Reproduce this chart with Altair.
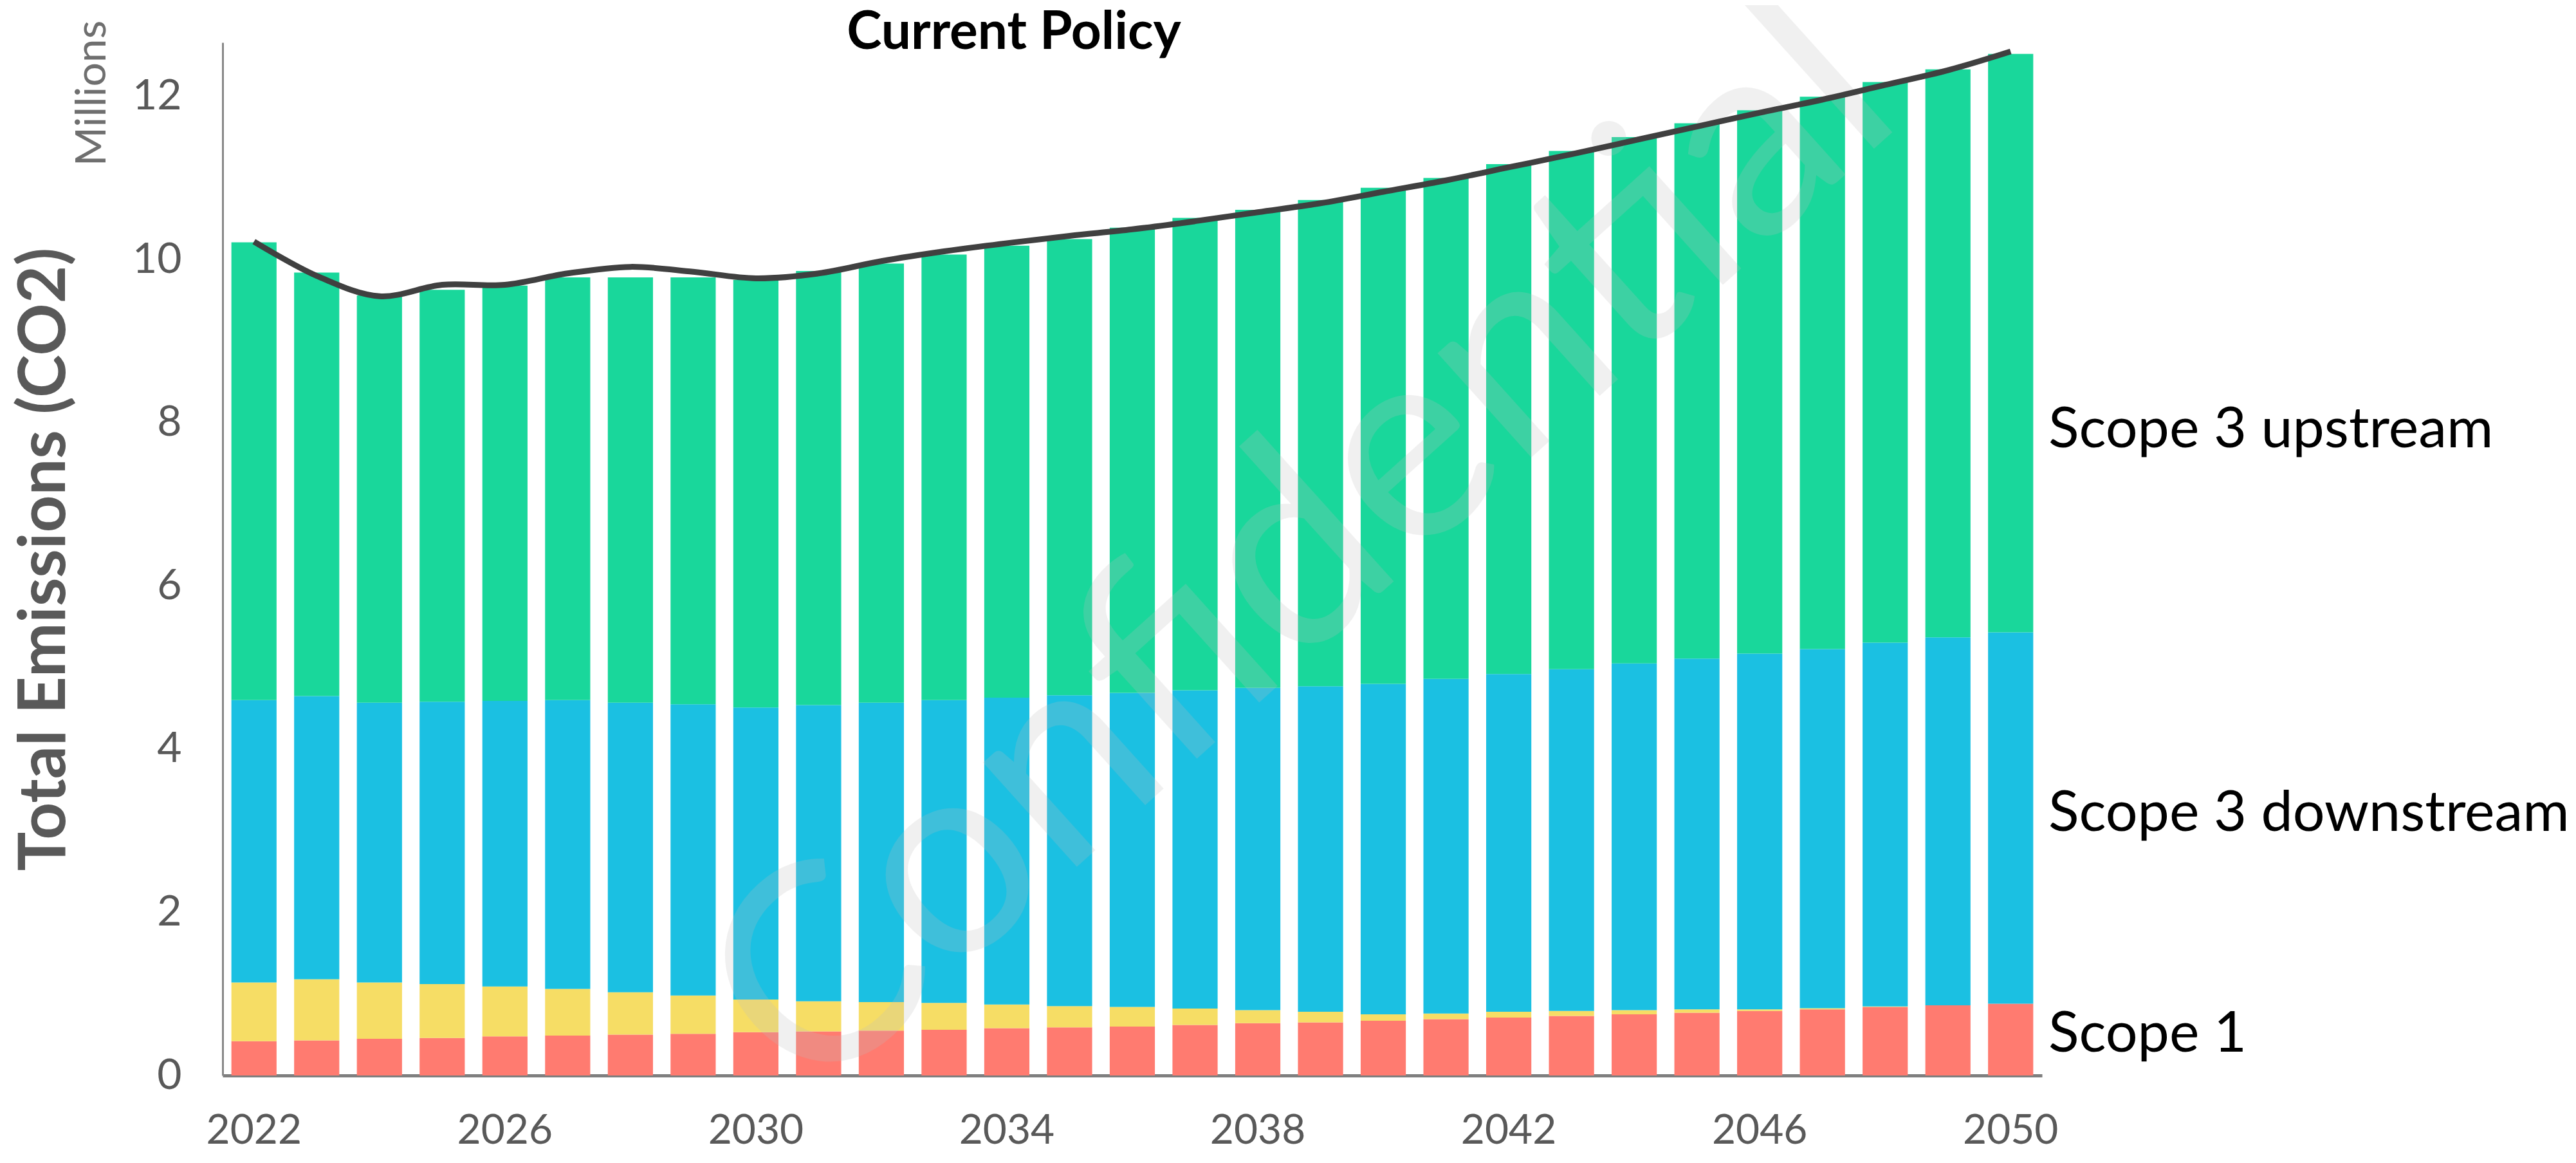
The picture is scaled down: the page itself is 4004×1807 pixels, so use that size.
import altair as alt
import pandas as pd

# ---------------- data ----------------
years = list(range(2022, 2051))

scope1 = [0.42, 0.43, 0.45, 0.46, 0.48, 0.49, 0.50, 0.51, 0.53, 0.54,
          0.55, 0.56, 0.58, 0.59, 0.60, 0.62, 0.64, 0.65, 0.67, 0.69,
          0.71, 0.73, 0.75, 0.77, 0.79, 0.81, 0.84, 0.86, 0.88]
scope2 = [0.72, 0.75, 0.69, 0.66, 0.61, 0.57, 0.52, 0.47, 0.40, 0.37,
          0.35, 0.33, 0.29, 0.26, 0.24, 0.20, 0.16, 0.13, 0.08, 0.07,
          0.07, 0.06, 0.05, 0.04, 0.02, 0.015, 0.005, 0.0, 0.0]
scope3_down = [3.46, 3.47, 3.43, 3.46, 3.50, 3.54, 3.55, 3.57, 3.58, 3.63,
               3.67, 3.71, 3.76, 3.81, 3.85, 3.90, 3.95, 3.99, 4.05, 4.10,
               4.14, 4.19, 4.25, 4.30, 4.36, 4.40, 4.46, 4.51, 4.55]
scope3_up = [5.61, 5.19, 4.99, 5.05, 5.09, 5.18, 5.21, 5.23, 5.24, 5.32,
             5.38, 5.46, 5.54, 5.59, 5.70, 5.79, 5.86, 5.96, 6.08, 6.14,
             6.25, 6.35, 6.45, 6.56, 6.66, 6.77, 6.87, 6.96, 7.09]
total_line = [10.22, 9.80, 9.55, 9.69, 9.69, 9.83, 9.91, 9.85, 9.77, 9.83,
              9.98, 10.10, 10.20, 10.29, 10.37, 10.47, 10.58, 10.69, 10.83, 10.97,
              11.13, 11.29, 11.46, 11.63, 11.80, 11.96, 12.14, 12.32, 12.55]

series_names = ["Scope 1", "Scope 2", "Scope 3 downstream", "Scope 3 upstream"]
series_colors = ["#FF7B70", "#F6DD65", "#1BC0E2", "#19D79B"]

label_texts = ["Scope 3 upstream", "Scope 3 downstream", "Scope 1"]
label_values = [7.70, 3.00, 0.29]

x_tick_years = [2022, 2026, 2030, 2034, 2038, 2042, 2046, 2050]
y_ticks = [0, 2, 4, 6, 8, 10, 12]

chart_title = "Current Policy"
unit_text = "Millions"
y_title = "Total Emissions (CO2)"
watermark = "Confidential"

# ---------------- tables ----------------
rows = []
for i, yr in enumerate(years):
    for k, (name, vals) in enumerate(zip(series_names, [scope1, scope2, scope3_down, scope3_up])):
        rows.append({"year": yr, "series": name, "value": vals[i], "order": k})
bars_df = pd.DataFrame(rows)
line_df = pd.DataFrame({"year": years, "total": total_line})
labels_df = pd.DataFrame({"label": label_texts, "value": label_values})

# ---------------- layout ----------------
W, H = 2828, 1605
YMAX = 12.66
GRAY = "#595959"

xscale = alt.Scale(paddingInner=0.28, paddingOuter=0.14)
xaxis = alt.Axis(values=x_tick_years, labelAngle=0, ticks=False, grid=False,
                 labelFont="Lato", labelFontSize=64, labelColor=GRAY,
                 labelPadding=54, domainColor="#7f7f7f", domainWidth=5, title=None)
yscale = alt.Scale(domain=[0, YMAX], nice=False, zero=True)
yaxis = alt.Axis(values=y_ticks, ticks=False, grid=False,
                 labelFont="Lato", labelFontSize=66, labelColor=GRAY,
                 labelPadding=64, domainColor="#878787", domainWidth=3,
                 title=y_title, titleFont="Lato", titleFontWeight="bold",
                 titleFontSize=101, titleColor=GRAY, titleAngle=270,
                 titleAlign="center", titleBaseline="alphabetic",
                 titleX=-246, titleY=H / 2)

bars = alt.Chart(bars_df).mark_bar().encode(
    x=alt.X("year:O", scale=xscale, axis=xaxis, title=None),
    y=alt.Y("value:Q", stack="zero", scale=yscale, axis=yaxis),
    color=alt.Color("series:N", scale=alt.Scale(domain=series_names, range=series_colors), legend=None),
    order=alt.Order("order:Q", sort="ascending"),
)

wm = alt.Chart(pd.DataFrame({"t": [watermark]})).mark_text(
    font="Lato", fontSize=430, angle=318, align="center", baseline="middle",
    color="#bfbfbf", opacity=0.22,
).encode(text="t:N", x=alt.value(1680), y=alt.value(790))

line = alt.Chart(line_df).mark_line(
    color="#404040", strokeWidth=9, interpolate="catmull-rom"
).encode(
    x=alt.X("year:O", scale=xscale, axis=xaxis, title=None),
    y=alt.Y("total:Q", scale=yscale, axis=yaxis),
)

labels = alt.Chart(labels_df).mark_text(
    font="Lato", fontSize=88, align="left", baseline="alphabetic", color="black"
).encode(
    text="label:N",
    x=alt.value(W + 10),
    y=alt.Y("value:Q", scale=yscale, axis=yaxis),
)

title = alt.Chart(pd.DataFrame({"t": [chart_title]})).mark_text(
    font="Lato", fontSize=82, fontWeight="bold", align="center",
    baseline="alphabetic", color="black",
).encode(text="t:N", x=alt.value(1230), y=alt.value(10))

millions = alt.Chart(pd.DataFrame({"t": [unit_text]})).mark_text(
    font="Lato", fontSize=66, angle=270, align="center",
    baseline="alphabetic", color="#6f6f6f",
).encode(text="t:N", x=alt.value(-182), y=alt.value(79))

chart = alt.layer(bars, wm, line, labels, title, millions).properties(
    width=W, height=H,
    autosize=alt.AutoSizeParams(type="none"),
    padding={"left": 338, "top": 58, "right": 820, "bottom": 122},
).configure_view(stroke=None)

chart.save("out.html", embed_options={"renderer": "svg", "actions": False})
